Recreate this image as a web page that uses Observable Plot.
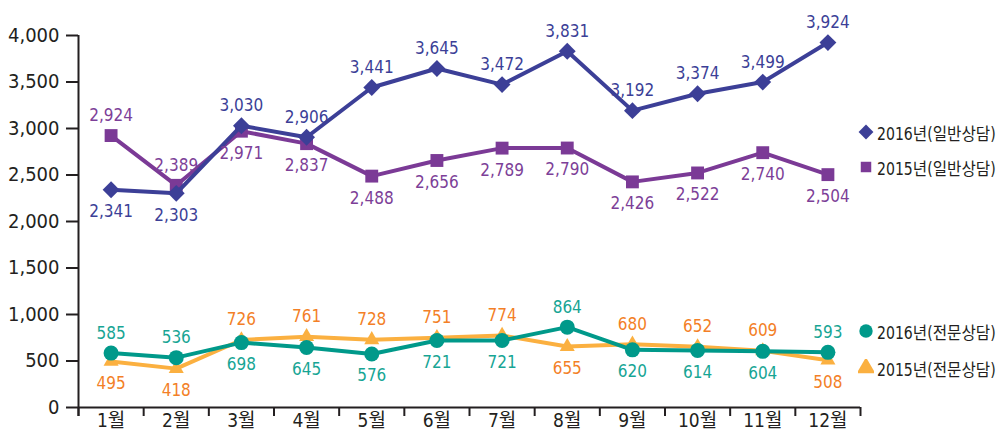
<!DOCTYPE html>
<html>
<head>
<meta charset="utf-8">
<script src="https://cdn.jsdelivr.net/npm/d3@7"></script>
<script src="https://cdn.jsdelivr.net/npm/@observablehq/plot@0.6"></script>
<style>
  html, body { margin: 0; padding: 0; background: #fff; }
  #wrap { position: relative; width: 1006px; height: 435px; }
  .lg { position: absolute; left: 858px; font: 17px "DejaVu Sans Condensed", "Noto Sans CJK KR", sans-serif; color: #231f20; display: flex; align-items: center; white-space: nowrap; }
  .lg svg { margin-right: 3px; flex: none; }
  .lg span { display: inline-block; transform: scaleX(0.92); transform-origin: left center; }
</style>
</head>
<body>
<div id="wrap"></div>
<script>
const months = ["1월","2월","3월","4월","5월","6월","7월","8월","9월","10월","11월","12월"];
const general2016 = [2341, 2303, 3030, 2906, 3441, 3645, 3472, 3831, 3192, 3374, 3499, 3924];
const general2015 = [2924, 2389, 2971, 2837, 2488, 2656, 2789, 2790, 2426, 2522, 2740, 2504];
const special2016 = [585, 536, 698, 645, 576, 721, 721, 864, 620, 614, 604, 593];
const special2015 = [495, 418, 726, 761, 728, 751, 774, 655, 680, 652, 609, 508];
const seriesNames = ["2016년(일반상담)", "2015년(일반상담)", "2016년(전문상담)", "2015년(전문상담)"];
const yTicks = [0, 500, 1000, 1500, 2000, 2500, 3000, 3500, 4000];

const colors = {
  "2016년(일반상담)": "#3c3f97",
  "2015년(일반상담)": "#7b3a96",
  "2016년(전문상담)": "#00998a",
  "2015년(전문상담)": "#fbb040"
};
const labelColors = {
  "2016년(일반상담)": "#3c3f97",
  "2015년(일반상담)": "#7d3f98",
  "2016년(전문상담)": "#17a594",
  "2015년(전문상담)": "#f37f27"
};
const symbols = {
  "2016년(일반상담)": "diamond2",
  "2015년(일반상담)": "square2",
  "2016년(전문상담)": "circle",
  "2015년(전문상담)": "triangle"
};
const radii = {
  "2016년(일반상담)": 7.6,
  "2015년(일반상담)": 8.2,
  "2016년(전문상담)": 7.5,
  "2015년(전문상담)": 5.6
};

function rows(values, name, other) {
  return values.map((v, i) => ({
    m: i + 1, value: v, series: name,
    above: v >= other[i]
  }));
}
const data = [
  ...rows(general2015, seriesNames[1], general2016),
  ...rows(general2016, seriesNames[0], general2015),
  ...rows(special2015, seriesNames[3], special2016),
  ...rows(special2016, seriesNames[2], special2015)
];
const order = [seriesNames[1], seriesNames[0], seriesNames[3], seriesNames[2]];
const centers = months.map((_, i) => i + 1);
const bounds = d3.range(0.5, months.length + 1, 1);

const numFont = '"DejaVu Sans Condensed", "Noto Sans CJK KR", sans-serif';
const marks = [];
for (const s of order) {
  const d = data.filter(r => r.series === s);
  marks.push(Plot.line(d, {x: "m", y: "value", stroke: colors[s], strokeWidth: 4, strokeLinejoin: "miter"}));
  marks.push(Plot.dot(d, {x: "m", y: "value", fill: colors[s], stroke: "none", symbol: () => symbols[s], r: radii[s]}));
}
for (const s of order) {
  const d = data.filter(r => r.series === s);
  marks.push(Plot.text(d.filter(r => r.above), {x: "m", y: "value", text: r => d3.format(",")(r.value), fill: labelColors[s], dy: -20, fontSize: 17}));
  marks.push(Plot.text(d.filter(r => !r.above), {x: "m", y: "value", text: r => d3.format(",")(r.value), fill: labelColors[s], dy: 22, fontSize: 17}));
}

const chart = Plot.plot({
  width: 1006,
  height: 435,
  marginLeft: 78,
  marginRight: 146,
  marginTop: 35,
  marginBottom: 28,
  style: {fontFamily: numFont, fontSize: "18px", color: "#231f20", background: "#fff", overflow: "visible"},
  x: {type: "linear", domain: [0.5, months.length + 0.5], axis: null},
  y: {domain: [0, 4000], axis: null},
  marks: [
    Plot.axisY({ticks: yTicks, tickSize: 12, tickPadding: 7, tickFormat: d3.format(","), label: null, fontSize: 20, stroke: "#231f20", strokeWidth: 2, fill: "#231f20"}),
    Plot.axisX({ticks: bounds, tickSize: 9, tickFormat: () => "", label: null, stroke: "#231f20", strokeWidth: 2}),
    Plot.axisX({ticks: centers, tickSize: 0, tickPadding: 6, tickFormat: i => months[i - 1], label: null, fontSize: 19, fill: "#231f20"}),
    Plot.ruleX([0.5], {stroke: "#231f20", strokeWidth: 2, insetBottom: -9}),
    Plot.ruleY([0], {stroke: "#231f20", strokeWidth: 2}),
    ...marks
  ]
});
const wrap = document.getElementById("wrap");
wrap.appendChild(chart);

// legend
const legendY = {"2016년(일반상담)": 132, "2015년(일반상담)": 167, "2016년(전문상담)": 331, "2015년(전문상담)": 368};
for (const s of seriesNames) {
  const div = document.createElement("div");
  div.className = "lg";
  div.style.top = (legendY[s] - 12) + "px";
  div.style.height = "24px";
  const sym = symbols[s] === "diamond2" ? d3.symbolDiamond2 : symbols[s] === "square2" ? d3.symbolSquare2 : symbols[s] === "circle" ? d3.symbolCircle : d3.symbolTriangle;
  const size = symbols[s] === "triangle" ? 150 : 140;
  const path = d3.symbol(sym, size)();
  div.innerHTML = `<svg width="16" height="18" viewBox="-8 -9 16 18"><path d="${path}" fill="${colors[s]}"></path></svg><span>${s}</span>`;
  wrap.appendChild(div);
}
</script>
</body>
</html>
